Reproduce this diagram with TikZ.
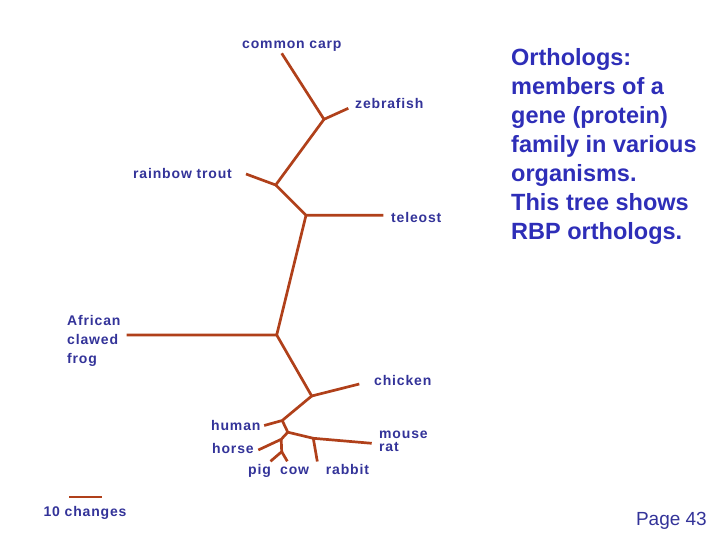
\documentclass[tikz,border=0pt]{standalone}
\usepackage{fontspec}
\setmainfont{Liberation Sans}
\newfontfamily\taxonfont{Liberation Sans}[LetterSpace=6]
\usetikzlibrary{positioning}
\definecolor{trBranch}{HTML}{B0401A}
\definecolor{trLabel}{HTML}{333399}
\definecolor{trNote}{HTML}{2E2EB8}
\tikzset{
  branch/.style={draw=trBranch, line width=2.7pt},
  taxon/.style={font=\taxonfont\bfseries\fontsize{14}{16}\selectfont, text=trLabel,
    inner sep=0pt, anchor=base west, align=left},
  note/.style={font=\bfseries\fontsize{23.5}{29}\selectfont, text=trNote,
    inner sep=0pt, anchor=base west, align=left},
  pagenum/.style={font=\fontsize{19}{22}\selectfont, text=trLabel, inner sep=0pt, anchor=base east}
}
\begin{document}
\begin{tikzpicture}[x=1pt, y=-1pt]
  \useasboundingbox (0,0) rectangle (720,540);
  % tree vertices
  \coordinate (carpTip) at (281.7,53.3);
  \coordinate (zfNode) at (324,119.3);
  \coordinate (zfTip) at (348.3,108.3);
  \coordinate (troutNode) at (275.7,185);
  \coordinate (troutTip) at (246,174);
  \coordinate (telNode) at (306,215.3);
  \coordinate (telTip) at (383.3,215.3);
  \coordinate (frogNode) at (276.7,335);
  \coordinate (frogTip) at (126.7,335);
  \coordinate (chickNode) at (311.7,396);
  \coordinate (chickTip) at (359.3,384);
  \coordinate (humNode) at (282.2,420.5);
  \coordinate (humTip) at (264.2,425.5);
  \coordinate (mamNode) at (287.8,432.2);
  \coordinate (rabNode) at (313.3,438.3);
  \coordinate (rabTip) at (317.3,461.5);
  \coordinate (mouseTip) at (371.7,443.3);
  \coordinate (horseNode) at (281.2,439.3);
  \coordinate (horseTip) at (258.3,450);
  \coordinate (pigNode) at (281.7,451.7);
  \coordinate (pigTip) at (270.5,461.3);
  \coordinate (cowTip) at (287.3,461.3);
  \coordinate (barL) at (69,497);
  \coordinate (barR) at (101.5,497);
  % branches
  \draw[branch] (carpTip) -- (zfNode) -- (zfTip);
  \draw[branch] (zfNode) -- (troutNode) -- (troutTip);
  \draw[branch] (troutNode) -- (telNode) -- (telTip);
  \draw[branch] (telNode) -- (frogNode) -- (frogTip);
  \draw[branch] (frogNode) -- (chickNode) -- (chickTip);
  \draw[branch] (chickNode) -- (humNode) -- (humTip);
  \draw[branch] (humNode) -- (mamNode) -- (rabNode) -- (mouseTip);
  \draw[branch] (rabNode) -- (rabTip);
  \draw[branch] (mamNode) -- (horseNode) -- (horseTip);
  \draw[branch] (horseNode) -- (pigNode) -- (pigTip);
  \draw[branch] (pigNode) -- (cowTip);
  \draw[branch] (barL) -- (barR);
  % taxa (multi-line ones sit on the baseline of their last line)
  \node[taxon] (carp) at (242,48.5) {common carp};
  \node[taxon] (zebrafish) at (355,108.3) {zebrafish};
  \node[taxon] (trout) at (133,179) {rainbow trout};
  \node[taxon] (teleost) at (391,222.7) {teleost};
  \node[taxon, font=\taxonfont\bfseries\fontsize{14}{19}\selectfont] (frog) at (67,363) {African\\clawed\\frog};
  \node[taxon] (chicken) at (374,385) {chicken};
  \node[taxon] (human) at (211,430.7) {human};
  \node[taxon, font=\taxonfont\bfseries\fontsize{14}{12.5}\selectfont] (mouse) at (379,451) {mouse\\rat};
  \node[taxon] (horse) at (212,453.5) {horse};
  \node[taxon] (pig) at (248,474.5) {pig};
  \node[taxon] (cow) at (280,474.5) {cow};
  \node[taxon] (rabbit) at (325.7,474.5) {rabbit};
  \node[taxon] (changes) at (43.3,516.7) {10 changes};
  % note
  \node[note] (orthologs) at (511,240) {Orthologs:\\members of a\\gene (protein)\\family in various\\organisms.\\This tree shows\\RBP orthologs.};
  \node[pagenum] (page) at (707,525) {Page 43};
\end{tikzpicture}
\end{document}
